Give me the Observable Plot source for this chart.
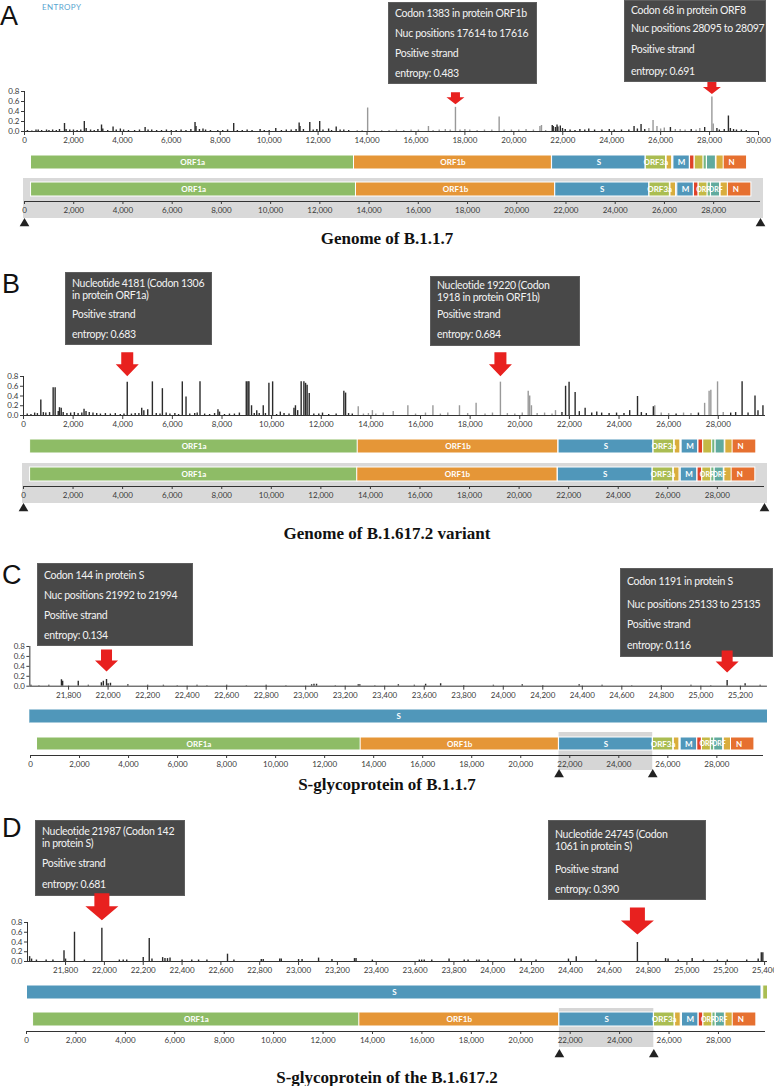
<!DOCTYPE html>
<html><head><meta charset="utf-8">
<script src="https://cdn.jsdelivr.net/npm/d3@7"></script>
<script src="https://cdn.jsdelivr.net/npm/@observablehq/plot@0.6"></script>
<style>
body{margin:0;background:#fff;}
#root{position:relative;width:774px;height:1086px;overflow:hidden;background:#fff;font-family:Lato,"Open Sans",sans-serif;}
.letter{font-family:"Liberation Sans",Arial,sans-serif;font-size:27px;color:#111;line-height:27px;}
.title{font-family:"Liberation Serif","Times New Roman",serif;font-weight:bold;font-size:17px;color:#111;width:774px;text-align:center;line-height:17px;}
.tip{background:rgba(56,56,56,0.92);color:#f3f3f3;font-family:Lato,sans-serif;font-size:10.5px;letter-spacing:-0.3px;box-sizing:border-box;border:1px solid #5e5e5e;white-space:nowrap;overflow:hidden;}
.tip .row{padding:0 5px 0 6px;display:flex;align-items:center;line-height:12px;box-sizing:border-box;}
.entlab{font-family:Lato,sans-serif;font-size:8px;color:#5aa5d0;letter-spacing:0.4px;}
</style></head><body><div id="root"></div><script>
// ---------- genome annotation ----------
const geneNames  = ["ORF1a","ORF1b","S","ORF3a","E","M","ORF6","ORF7a","ORF7b","ORF8","N","ORF9b"];
const geneStart  = [266,13468,21563,25393,26245,26523,27202,27394,27756,27894,28274,28284];
const geneEnd    = [13483,21555,25384,26220,26472,27191,27387,27759,27887,28259,29533,28577];
const geneColors = ["#8EBC66","#E59637","#5097BA","#AABD52","#D9AD3D","#5097BA","#DF4327","#C4B945","#75B681","#60AA9E","#E67030","#D9AD3D"];
const mainLabels = ["ORF1a","ORF1b","S","ORF3a","","M","","","","","N",""];
const navLabels  = ["ORF1a","ORF1b","S","ORF3a","","M","","ORF","","ORF","N",""];
const genomeLength = 29903;

// ---------- tick labels ----------
const ticksA = [0,2000,4000,6000,8000,10000,12000,14000,16000,18000,20000,22000,24000,26000,28000,30000];
const ticksGenome = [0,2000,4000,6000,8000,10000,12000,14000,16000,18000,20000,22000,24000,26000,28000];
const ticksC = [21800,22000,22200,22400,22600,22800,23000,23200,23400,23600,23800,24000,24200,24400,24600,24800,25000,25200];
const ticksD = [21800,22000,22200,22400,22600,22800,23000,23200,23400,23600,23800,24000,24200,24400,24600,24800,25000,25200,25400];
const entropyTicks = [0,0.2,0.4,0.6,0.8];

// ---------- entropy values [position, entropy] ----------
const entropyA = [[120,0.02],[300,0.01],[470,0.03],[560,0.03],[700,0.02],[900,0.03],[1000,0.02],[1150,0.03],[1300,0.02],[1430,0.04],[1635,0.16],[1700,0.04],[1850,0.03],[2000,0.03],[2150,0.02],[2300,0.03],[2445,0.2],[2520,0.06],[2700,0.03],[2850,0.02],[3000,0.04],[3148,0.13],[3200,0.05],[3400,0.02],[3620,0.09],[3750,0.03],[3918,0.05],[4050,0.03],[4250,0.02],[4500,0.02],[4700,0.03],[4930,0.08],[5050,0.03],[5200,0.03],[5400,0.02],[5600,0.02],[5800,0.03],[6000,0.02],[6200,0.02],[6400,0.03],[6600,0.02],[6800,0.04],[6970,0.18],[7010,0.1],[7150,0.04],[7295,0.05],[7400,0.03],[7600,0.02],[7900,0.02],[8100,0.02],[8300,0.03],[8550,0.16],[8700,0.02],[8900,0.02],[9100,0.03],[9300,0.02],[9630,0.04],[9800,0.02],[10000,0.02],[10270,0.06],[10500,0.02],[10700,0.03],[10900,0.03],[11100,0.04],[11225,0.17],[11260,0.1],[11400,0.04],[11660,0.18],[11800,0.03],[11950,0.04],[12065,0.2],[12200,0.03],[12430,0.05],[12550,0.02],[12740,0.09],[12900,0.03],[13050,0.03],[13250,0.02],[13600,0.02],[13800,0.02],[14025,0.47],[14300,0.02],[14600,0.02],[14900,0.02],[15200,0.03],[15500,0.02],[15800,0.03],[16100,0.03],[16510,0.1],[16700,0.02],[16950,0.03],[17200,0.04],[17400,0.03],[17614,0.483],[17800,0.03],[18000,0.04],[18200,0.03],[18500,0.02],[18800,0.03],[19100,0.03],[19400,0.29],[19600,0.03],[19900,0.03],[20200,0.03],[20500,0.04],[20800,0.03],[21067,0.1],[21130,0.12],[21300,0.02],[21570,0.12],[21610,0.1],[21700,0.08],[21765,0.13],[21800,0.09],[21900,0.11],[21990,0.06],[22100,0.04],[22300,0.03],[22500,0.02],[22700,0.04],[22900,0.03],[23063,0.05],[23300,0.03],[23600,0.03],[23900,0.04],[24100,0.03],[24400,0.03],[24700,0.03],[24914,0.1],[25050,0.05],[25200,0.14],[25350,0.04],[25520,0.06],[25690,0.22],[25850,0.1],[26000,0.05],[26150,0.07],[26400,0.08],[26600,0.04],[26800,0.04],[27000,0.03],[27250,0.04],[27450,0.03],[27600,0.06],[27800,0.08],[28095,0.691],[28150,0.15],[28300,0.06],[28400,0.03],[28600,0.04],[28770,0.31],[28850,0.06],[28980,0.04],[29100,0.03],[29300,0.03],[29500,0.02]];

const entropyB = [[150,0.03],[300,0.02],[450,0.05],[560,0.04],[698,0.32],[800,0.06],[900,0.05],[1050,0.06],[1195,0.57],[1275,0.57],[1400,0.08],[1450,0.16],[1520,0.15],[1600,0.06],[1750,0.04],[1900,0.05],[2050,0.06],[2200,0.04],[2350,0.05],[2440,0.13],[2520,0.08],[2650,0.06],[2800,0.05],[2950,0.04],[3100,0.03],[3300,0.04],[3500,0.03],[3700,0.04],[3900,0.02],[4050,0.03],[4181,0.683],[4350,0.03],[4500,0.04],[4650,0.04],[4764,0.15],[4850,0.1],[5006,0.12],[5194,0.69],[5350,0.04],[5500,0.03],[5597,0.55],[5750,0.05],[5900,0.03],[6100,0.04],[6250,0.02],[6400,0.69],[6550,0.38],[6700,0.03],[6900,0.04],[7000,0.05],[7113,0.69],[7300,0.03],[7500,0.02],[7700,0.04],[7837,0.12],[7900,0.07],[8100,0.02],[8300,0.03],[8500,0.03],[8700,0.05],[8978,0.69],[9045,0.69],[9085,0.69],[9190,0.2],[9300,0.04],[9400,0.1],[9500,0.04],[9662,0.2],[9750,0.04],[9890,0.66],[10040,0.69],[10200,0.02],[10350,0.07],[10500,0.04],[10700,0.03],[10900,0.15],[10960,0.2],[11050,0.1],[11190,0.69],[11300,0.69],[11367,0.66],[11430,0.62],[11515,0.45],[11700,0.03],[11900,0.03],[12050,0.05],[12300,0.02],[12600,0.03],[12910,0.5],[12980,0.46],[13100,0.04],[13250,0.03],[13490,0.18],[13700,0.03],[13900,0.04],[14060,0.1],[14200,0.03],[14500,0.05],[14900,0.08],[15490,0.2],[15800,0.03],[16200,0.05],[16500,0.2],[16800,0.03],[17100,0.05],[17570,0.2],[17900,0.04],[18240,0.25],[18600,0.03],[18900,0.05],[19220,0.684],[19500,0.04],[19800,0.03],[20100,0.05],[20340,0.5],[20400,0.4],[20470,0.2],[20700,0.04],[21000,0.05],[21300,0.03],[21440,0.1],[21700,0.06],[21846,0.6],[21987,0.681],[22231,0.47],[22400,0.08],[22634,0.15],[22900,0.05],[23103,0.07],[23300,0.05],[23600,0.04],[23900,0.05],[24200,0.04],[24430,0.1],[24745,0.39],[24900,0.06],[25100,0.04],[25383,0.18],[25440,0.2],[25700,0.05],[26000,0.04],[26300,0.03],[26600,0.05],[26900,0.04],[27200,0.05],[27450,0.25],[27630,0.5],[27700,0.52],[27970,0.69],[28200,0.06],[28500,0.05],[28700,0.06],[28960,0.69],[29200,0.05],[29480,0.4],[29600,0.1],[29800,0.2]];

const entropyC = [[21610,0.02],[21650,0.01],[21700,0.02],[21764,0.13],[21770,0.1],[21849,0.1],[21900,0.02],[21966,0.07],[21976,0.1],[21992,0.134],[22000,0.05],[22012,0.06],[22100,0.03],[22200,0.02],[22280,0.02],[22350,0.01],[22450,0.02],[22500,0.01],[22600,0.02],[22700,0.01],[22800,0.02],[22900,0.01],[23030,0.03],[23042,0.04],[23055,0.04],[23150,0.01],[23266,0.03],[23274,0.03],[23350,0.01],[23469,0.03],[23550,0.02],[23607,0.04],[23683,0.05],[23800,0.01],[23950,0.02],[24096,0.03],[24200,0.01],[24384,0.03],[24500,0.02],[24650,0.01],[24800,0.01],[24950,0.02],[25050,0.01],[25133,0.116],[25224,0.05],[25300,0.02]];

const entropyD = [[21615,0.1],[21625,0.05],[21650,0.03],[21700,0.03],[21735,0.03],[21792,0.22],[21800,0.05],[21846,0.6],[21897,0.03],[21987,0.681],[22077,0.03],[22097,0.03],[22115,0.03],[22200,0.08],[22231,0.47],[22245,0.05],[22300,0.08],[22312,0.06],[22325,0.06],[22338,0.07],[22400,0.03],[22450,0.03],[22485,0.03],[22528,0.03],[22634,0.15],[22667,0.03],[22808,0.04],[22818,0.04],[22903,0.05],[22911,0.05],[23000,0.04],[23018,0.04],[23103,0.07],[23172,0.04],[23288,0.06],[23296,0.06],[23380,0.03],[23622,0.03],[23634,0.03],[23647,0.03],[23686,0.03],[23775,0.05],[23853,0.03],[23873,0.03],[23917,0.03],[23930,0.03],[23976,0.03],[24113,0.05],[24146,0.05],[24223,0.03],[24390,0.05],[24430,0.1],[24532,0.03],[24745,0.39],[24890,0.06],[24903,0.05],[24955,0.03],[25027,0.06],[25085,0.03],[25157,0.03],[25208,0.03],[25308,0.03],[25367,0.05],[25383,0.18],[25391,0.18]];

// ---------- highlighted sites ----------
const highlightA = [[17614,0.483],[28095,0.691]];
const highlightB = [[4181,0.683],[19220,0.684]];
const highlightC = [[21992,0.134],[25133,0.116]];
const highlightD = [[21987,0.681],[24745,0.390]];

// ---------- tooltip texts ----------
const tipA1 = ["Codon 1383 in protein ORF1b","Nuc positions 17614 to 17616","Positive strand","entropy: 0.483"];
const tipA2 = ["Codon 68 in protein ORF8","Nuc positions 28095 to 28097","Positive strand","entropy: 0.691"];
const tipB1 = ["Nucleotide 4181 (Codon 1306<br>in protein ORF1a)","Positive strand","entropy: 0.683"];
const tipB2 = ["Nucleotide 19220 (Codon<br>1918 in protein ORF1b)","Positive strand","entropy: 0.684"];
const tipC1 = ["Codon 144 in protein S","Nuc positions 21992 to 21994","Positive strand","entropy: 0.134"];
const tipC2 = ["Codon 1191 in protein S","Nuc positions 25133 to 25135","Positive strand","entropy: 0.116"];
const tipD1 = ["Nucleotide 21987 (Codon 142<br>in protein S)","Positive strand","entropy: 0.681"];
const tipD2 = ["Nucleotide 24745 (Codon<br>1061 in protein S)","Positive strand","entropy: 0.390"];

const panelLetters = ["A","B","C","D"];
const panelTitles = ["Genome of B.1.1.7","Genome of B.1.617.2 variant","S-glycoprotein of B.1.1.7","S-glycoprotein of the B.1.617.2"];

// ---------- build ----------
const W = 774;
const root = document.getElementById("root");
const genes = geneNames.map((name,i)=>({name,start:geneStart[i],end:geneEnd[i],color:geneColors[i],main:mainLabels[i],nav:navLabels[i],idx:i}));
const codingOrder = genes.filter(g=>g.name!=="ORF9b");
function shade(pos){
  const i = codingOrder.findIndex(g=>pos>=g.start && pos<=g.end);
  return (i>=0 && i%2===1) ? "#999" : "#2b2b2b";
}
function put(el,left,top){el.style.position="absolute";el.style.left=left+"px";el.style.top=top+"px";root.appendChild(el);return el;}
function mk(cls,html){const d=document.createElement("div");d.className=cls;d.innerHTML=html;return d;}
const fmt = d3.format(",");
const svgStyle = {background:"transparent",fontFamily:"Lato, sans-serif",fontSize:"8px",color:"#3a3a3a",overflow:"visible"};

function arrowSymbol(a){
  return {draw(ctx){
    const sw=a.sw/2, hw=a.hw/2;
    ctx.moveTo(-sw,-a.hh-a.sh); ctx.lineTo(sw,-a.hh-a.sh); ctx.lineTo(sw,-a.hh);
    ctx.lineTo(hw,-a.hh); ctx.lineTo(0,0); ctx.lineTo(-hw,-a.hh); ctx.lineTo(-sw,-a.hh); ctx.closePath();
  }};
}

function entropyPlot(p){
  const mt=36, mb=18, h=mt+(p.y0-p.y8)+mb;
  const svg = Plot.plot({
    width:W, height:h, marginLeft:p.x0, marginRight:W-p.x1, marginTop:mt, marginBottom:mb,
    x:{domain:p.domain}, y:{domain:[0,0.8]}, color:{type:"identity"}, style:svgStyle,
    marks:[
      Plot.ruleX(p.data,{x:d=>d[0],y1:0,y2:d=>d[1],stroke:d=>shade(d[0]),strokeWidth:1.4,clip:true}),
      Plot.ruleY([0],{stroke:"#333",strokeWidth:1}),
      Plot.ruleX([p.domain[0]],{stroke:"#333",strokeWidth:1}),
      Plot.axisY({ticks:entropyTicks,tickFormat:d3.format(".1f"),tickSize:3,tickPadding:2,label:null,fontSize:8}),
      Plot.axisX({ticks:p.ticks,tickFormat:fmt,tickSize:4,tickPadding:2,label:null,fontSize:8}),
      Plot.dot(p.arrows,{x:d=>d[0],y:d=>d[1],symbol:arrowSymbol(p.arrow),r:6,fill:"#e8211f",stroke:"none",dy:-p.gap})
    ]
  });
  put(svg,0,p.y8-mt);
}

function mainBar(p){
  const mt=2, mb=2, h=mt+(p.bot-p.top)+mb;
  const lab = genes.filter(g=>g.main).map(g=>{
      const a=Math.max(g.start,p.domain[0]), b=Math.min(g.end,p.domain[1]);
      return {...g, mid:(a+b)/2, span:b-a};
    }).filter(g=>g.span > (p.domain[1]-p.domain[0])*0.02);
  const svg = Plot.plot({
    width:W, height:h, marginLeft:p.x0, marginRight:W-p.x1, marginTop:mt, marginBottom:mb,
    x:{domain:p.domain,axis:null}, y:{domain:[0,1],axis:null}, color:{type:"identity"}, style:svgStyle,
    marks:[
      Plot.rect(genes,{x1:"start",x2:"end",y1:0,y2:1,fill:"color",stroke:"white",strokeWidth:1,clip:true}),
      Plot.text(lab,{x:"mid",y:0.5,text:"main",fill:"white",fontSize:8,fontWeight:"bold"})
    ]
  });
  put(svg,0,p.top-mt);
}

function navBar(p){
  const svgTop = p.greyTop-2;
  const mt = p.gTop-svgTop, frameBot = p.axis-svgTop, h = p.tri-svgTop+8, mb = h-frameBot;
  const off = p.axis-p.gBot;
  const labs = genes.filter(g=>g.nav).map(g=>({...g,mid:(g.start+g.end)/2}));
  const marks = [];
  if (p.full) marks.push(Plot.rect([{s:0,e:genomeLength}],{x1:"s",x2:"e",y1:0,y2:1,fill:"#d9d9d9",insetTop:-(p.gTop-p.greyTop),insetBottom:-(p.greyBot-p.axis),insetLeft:-1,insetRight:-3}));
  else marks.push(Plot.rect(genes.filter(g=>g.name==="S"),{x1:"start",x2:"end",y1:0,y2:1,fill:"#d6d6d6",insetTop:-(p.gTop-p.greyTop),insetBottom:-(p.greyBot-p.axis)}));
  marks.push(
    Plot.rect(genes,{x1:"start",x2:"end",y1:0,y2:1,fill:"color",stroke:"white",strokeWidth:1,insetBottom:off}),
    Plot.text(labs,{x:"mid",y:0.5,text:"nav",fill:"white",fontSize:d=>d.nav==="ORF"?7:8,fontWeight:"bold",dy:-off/2}),
    Plot.ruleY([0],{stroke:"#333",strokeWidth:1}),
    Plot.axisX({ticks:ticksGenome,tickFormat:fmt,tickSize:3,tickPadding:3,label:null,fontSize:8}),
    Plot.dot(p.full?[0,genomeLength]:genes.filter(g=>g.name==="S").flatMap(g=>[g.start,g.end]),{x:d=>d,y:0,symbol:"triangle",r:3.6,fill:"#222",stroke:"none",dy:p.tri-p.axis})
  );
  const svg = Plot.plot({
    width:W, height:h, marginLeft:p.x0, marginRight:W-p.x1, marginTop:mt, marginBottom:mb,
    x:{domain:[0,genomeLength]}, y:{domain:[0,1],axis:null}, color:{type:"identity"}, style:svgStyle, marks
  });
  put(svg,0,svgTop);
}

function tooltip(lines,rows,left,top,width){
  const d=mk("tip",""); d.style.width=width+"px";
  lines.forEach((t,i)=>{const r=mk("row",t); r.style.height=rows[i]+"px"; d.appendChild(r);});
  put(d,left,top);
}
function letter(i,top,left){put(mk("letter",panelLetters[i]),left,top);}
function title(i,baseline){put(mk("title",panelTitles[i]),0,baseline-13.5);}

// Panel A
letter(0,3,0);
put(mk("entlab","ENTROPY"),42,2);
tooltip(tipA1,[20,20,20,20],388,2,149);
tooltip(tipA2,[17,20,22,21],624,0,142);
entropyPlot({data:entropyA,domain:[0,30000],x0:24,x1:758,y8:91,y0:131,ticks:ticksA,arrows:highlightA,arrow:{sw:9,sh:5,hw:18,hh:7},gap:3});
mainBar({domain:[0,30000],x0:24,x1:758,top:155,bot:169});
navBar({full:true,x0:24,x1:760,gTop:182,gBot:196,axis:201,greyTop:178,greyBot:218,tri:223});
title(0,243);

// Panel B
letter(1,271,2);
tooltip(tipB1,[31,19,21],65,272,147);
tooltip(tipB2,[28,18,22],430,276,150);
entropyPlot({data:entropyB,domain:[0,genomeLength],x0:23,x1:765,y8:376,y0:415,ticks:ticksGenome,arrows:highlightB,arrow:{sw:12,sh:12,hw:23,hh:12},gap:6});
mainBar({domain:[0,genomeLength],x0:23,x1:765,top:439,bot:453});
navBar({full:true,x0:23,x1:764,gTop:467,gBot:481,axis:486,greyTop:463,greyBot:503,tri:508});
title(1,538);

// Panel C
letter(2,562,2);
tooltip(tipC1,[21,20,20,20],37,563,156);
tooltip(tipC2,[24,21,20,22],620,568,153);
entropyPlot({data:entropyC,domain:[21604,25337],x0:29.3,x1:767,y8:646,y0:685.7,ticks:ticksC,arrows:highlightC,arrow:{sw:11,sh:11,hw:23,hh:11},gap:8});
mainBar({domain:[21604,25337],x0:29.3,x1:767,top:709,bot:723});
navBar({full:false,x0:30,x1:763,gTop:737,gBot:750,axis:755,greyTop:732,greyBot:770,tri:774});
title(2,789);

// Panel D
letter(3,815,2);
tooltip(tipD1,[31,21,22],35,820,150);
tooltip(tipD2,[38,19,21],548,820,158);
entropyPlot({data:entropyD,domain:[21604,25415],x0:27,x1:767,y8:922,y0:961,ticks:ticksD,arrows:highlightD,arrow:{sw:15,sh:13,hw:33,hh:14},gap:8});
mainBar({domain:[21604,25415],x0:27,x1:767,top:985,bot:999});
navBar({full:false,x0:26,x1:765,gTop:1012,gBot:1026,axis:1031,greyTop:1008,greyBot:1047,tri:1054});
title(3,1082);
</script></body></html>
